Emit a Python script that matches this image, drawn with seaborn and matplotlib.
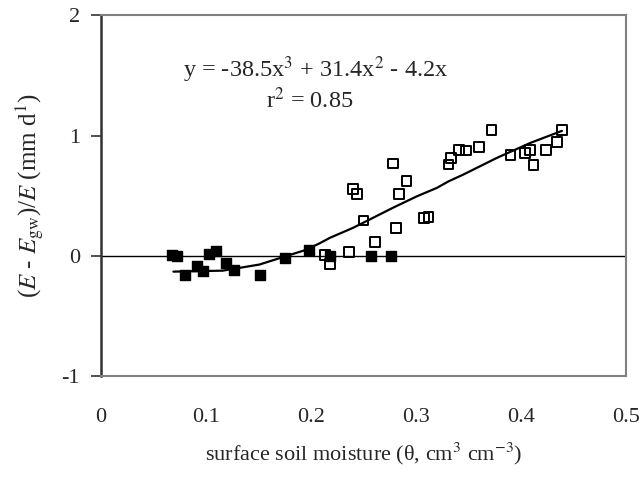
import matplotlib
matplotlib.use("Agg")
import matplotlib.pyplot as plt
import seaborn as sns
import pandas as pd

# Hollow squares
hollow_x = [0.213, 0.218, 0.236, 0.240, 0.244, 0.250, 0.261, 0.278, 0.281, 0.284,
            0.291, 0.308, 0.312, 0.331, 0.333, 0.341, 0.348, 0.360, 0.372, 0.390,
            0.404, 0.409, 0.412, 0.424, 0.434, 0.439]
hollow_y = [0.01, -0.07, 0.033, 0.557, 0.516, 0.294, 0.116, 0.768, 0.235, 0.516,
            0.62, 0.313, 0.324, 0.76, 0.815, 0.879, 0.876, 0.904, 1.05, 0.837,
            0.857, 0.879, 0.754, 0.879, 0.95, 1.05]

# Filled markers
filled_x = [0.068, 0.072, 0.080, 0.091, 0.097, 0.103, 0.110, 0.119, 0.127, 0.151,
            0.175, 0.198, 0.218, 0.257, 0.276]
filled_y = [0.005, 0.0, -0.155, -0.087, -0.128, 0.017, 0.038, -0.058, -0.114, -0.155,
            -0.017, 0.052, 0.0, 0.0, 0.0]

# Trend line
curve_x = [0.069, 0.116, 0.151, 0.177, 0.196, 0.209, 0.218, 0.240, 0.259, 0.278,
           0.301, 0.320, 0.331, 0.345, 0.377, 0.409, 0.439]
curve_y = [-0.131, -0.123, -0.072, 0.0, 0.052, 0.108, 0.15, 0.233, 0.316, 0.40,
           0.496, 0.566, 0.62, 0.676, 0.815, 0.94, 1.04]

x_ticks = [0, 0.1, 0.2, 0.3, 0.4, 0.5]
x_tick_labels = ["0", "0.1", "0.2", "0.3", "0.4", "0.5"]
y_ticks = [-1, 0, 1, 2]
y_tick_labels = ["-1", "0", "1", "2"]

sns.set_style("white")
plt.rcParams['font.family'] = ['Liberation Serif', 'DejaVu Serif']
plt.rcParams['mathtext.fontset'] = 'stix'

fig = plt.figure(figsize=(6.43, 4.84), dpi=100)
ax = fig.add_axes([0.157, 0.223, 0.8165, 0.745])

df_h = pd.DataFrame({"x": hollow_x, "y": hollow_y})
df_f = pd.DataFrame({"x": filled_x, "y": filled_y})
df_c = pd.DataFrame({"x": curve_x, "y": curve_y})

ax.axhline(0, color="black", lw=1.0, zorder=1)
sns.scatterplot(data=df_h, x="x", y="y", ax=ax, marker="s", s=50,
                facecolor="none", edgecolor="black", linewidth=1.4, zorder=2)
sns.lineplot(data=df_c, x="x", y="y", ax=ax, color="black", lw=1.6, sort=False, zorder=3)
sns.scatterplot(data=df_f, x="x", y="y", ax=ax, marker="s", s=62,
                color="black", edgecolor="black", linewidth=1.0, zorder=4)

ax.set_xlim(0, 0.5)
ax.set_ylim(-1, 2)
ax.set_xticks(x_ticks)
ax.set_xticklabels(x_tick_labels)
ax.set_yticks(y_ticks)
ax.set_yticklabels(y_tick_labels)
ax.tick_params(axis="x", length=0, pad=23, labelsize=16)
ax.tick_params(axis="y", direction="out", length=7, width=1.2, color="#333333",
               pad=8, labelsize=16, left=True)

for s in ["top", "right", "bottom"]:
    ax.spines[s].set_color("#808080")
    ax.spines[s].set_linewidth(1.5)
ax.spines["left"].set_color("#333333")
ax.spines["left"].set_linewidth(1.8)

ax.set_xlabel("surface soil moisture (θ, cm$^3$ cm$^{-3}$)", fontsize=16, labelpad=10)
ax.set_ylabel(r"($E$ - $E_{\rm gw}$)/$E$ (mm d$^{1}$)", fontsize=18, labelpad=11)

ax.text(0.204, 1.55, r"y = -38.5x$^3$ + 31.4x$^2$ - 4.2x", fontsize=17.5,
        ha="center", va="center")
ax.text(0.199, 1.29, r"r$^2$ = 0.85", fontsize=17.5, ha="center", va="center")

fig.savefig("out.png", dpi=100)
